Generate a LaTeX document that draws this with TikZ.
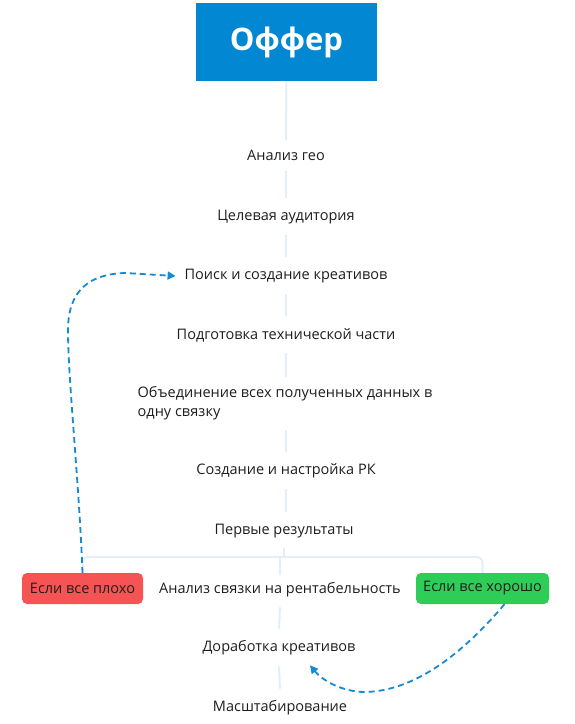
\documentclass[tikz,border=0pt]{standalone}
\usepackage{fontspec}
\setmainfont{Open Sans}
\usetikzlibrary{arrows.meta}
\definecolor{offerblue}{RGB}{2,136,210}
\definecolor{connc}{RGB}{228,238,248}
\definecolor{badred}{RGB}{246,84,84}
\definecolor{goodgreen}{RGB}{46,205,88}
\definecolor{dashblue}{RGB}{22,138,210}
\definecolor{txt}{RGB}{30,30,30}
\tikzset{
  stepnode/.style={text=txt,font=\fontsize{14.5}{19}\selectfont,inner sep=0pt,outer sep=0pt},
  conn/.style={draw=connc,line width=2pt},
  tagbox/.style={rounded corners=5pt,minimum height=31pt,inner xsep=5pt,text=txt,font=\fontsize{14.5}{19}\selectfont},
  loop/.style={draw=dashblue,line width=1.8pt,dash pattern=on 6pt off 4pt,-{Triangle[length=8pt,width=8pt]}},
}
\begin{document}
\begin{tikzpicture}[x=1pt,y=-1pt]
\useasboundingbox[fill=white] (0,0) rectangle (575,724);
\node[fill=offerblue,minimum width=181pt,minimum height=78pt,inner sep=0pt,text=white,font=\fontsize{31}{36}\bfseries\selectfont] (offer) at (286.5,42) {Оффер};
\node[stepnode] (n1) at (286,155) {Анализ гео};
\node[stepnode] (n2) at (286,217) {Целевая аудитория};
\node[stepnode] (n3) at (286,276) {Поиск и создание креативов};
\node[stepnode] (n4) at (286,335) {Подготовка технической части};
\node[stepnode,align=left] (n5) at (285,403) {Объединение всех полученных данных в\\одну связку};
\node[stepnode] (n6) at (286,471) {Создание и настройка РК};
\node[stepnode] (n7) at (284,531) {Первые результаты};
\node[stepnode] (n8) at (280,590) {Анализ связки на рентабельность};
\node[tagbox,fill=badred,minimum width=121pt] (bad) at (82.5,588.5) {Если все плохо};
\node[tagbox,fill=goodgreen,minimum width=133pt] (good) at (482.5,588.5) {Если все хорошо};
\node[stepnode] (n9) at (279,648) {Доработка креативов};
\node[stepnode] (n10) at (280,708) {Масштабирование};
% central connectors
\draw[conn] (offer.south) -- ([yshift=10pt]n1.north);
\draw[conn] ([yshift=-11pt]n1.south) -- ([yshift=12pt]n2.north);
\draw[conn] ([yshift=-11pt]n2.south) -- ([yshift=12pt]n3.north);
\draw[conn] ([yshift=-11pt]n3.south) -- ([yshift=12pt]n4.north);
\draw[conn] ([yshift=-11pt]n4.south) -- ([yshift=9pt,xshift=1pt]n5.north);
\draw[conn] ([yshift=-10pt,xshift=1pt]n5.south) -- ([yshift=12pt]n6.north);
\draw[conn] ([yshift=-11pt]n6.south) -- ([yshift=12pt,xshift=2pt]n7.north);
\coordinate (split) at (284,557);
\draw[conn] ([yshift=-10pt]n7.south) -- (split);
\draw[conn,rounded corners=6pt] (bad.north) |- (split) -| (good.north);
\draw[conn] (280,557) -- ([yshift=8pt]n8.north);
\draw[conn] ([yshift=-10pt]n8.south) -- ([yshift=12pt]n9.north);
\draw[conn] ([yshift=-11pt]n9.south) -- ([yshift=12pt]n10.north);
% dashed loops
\draw[loop] (bad.north) .. controls (79,480) and (68,380) .. (68,330) .. controls (68,290) and (90,274) .. (125,273) -- ([xshift=-9pt]n3.west);
\draw[loop] ([xshift=22pt]good.south) .. controls (470,645) and (420,691) .. (365,692) .. controls (342,692) and (322,680) .. ([xshift=31pt,yshift=-10pt]n9.south);
\end{tikzpicture}
\end{document}
